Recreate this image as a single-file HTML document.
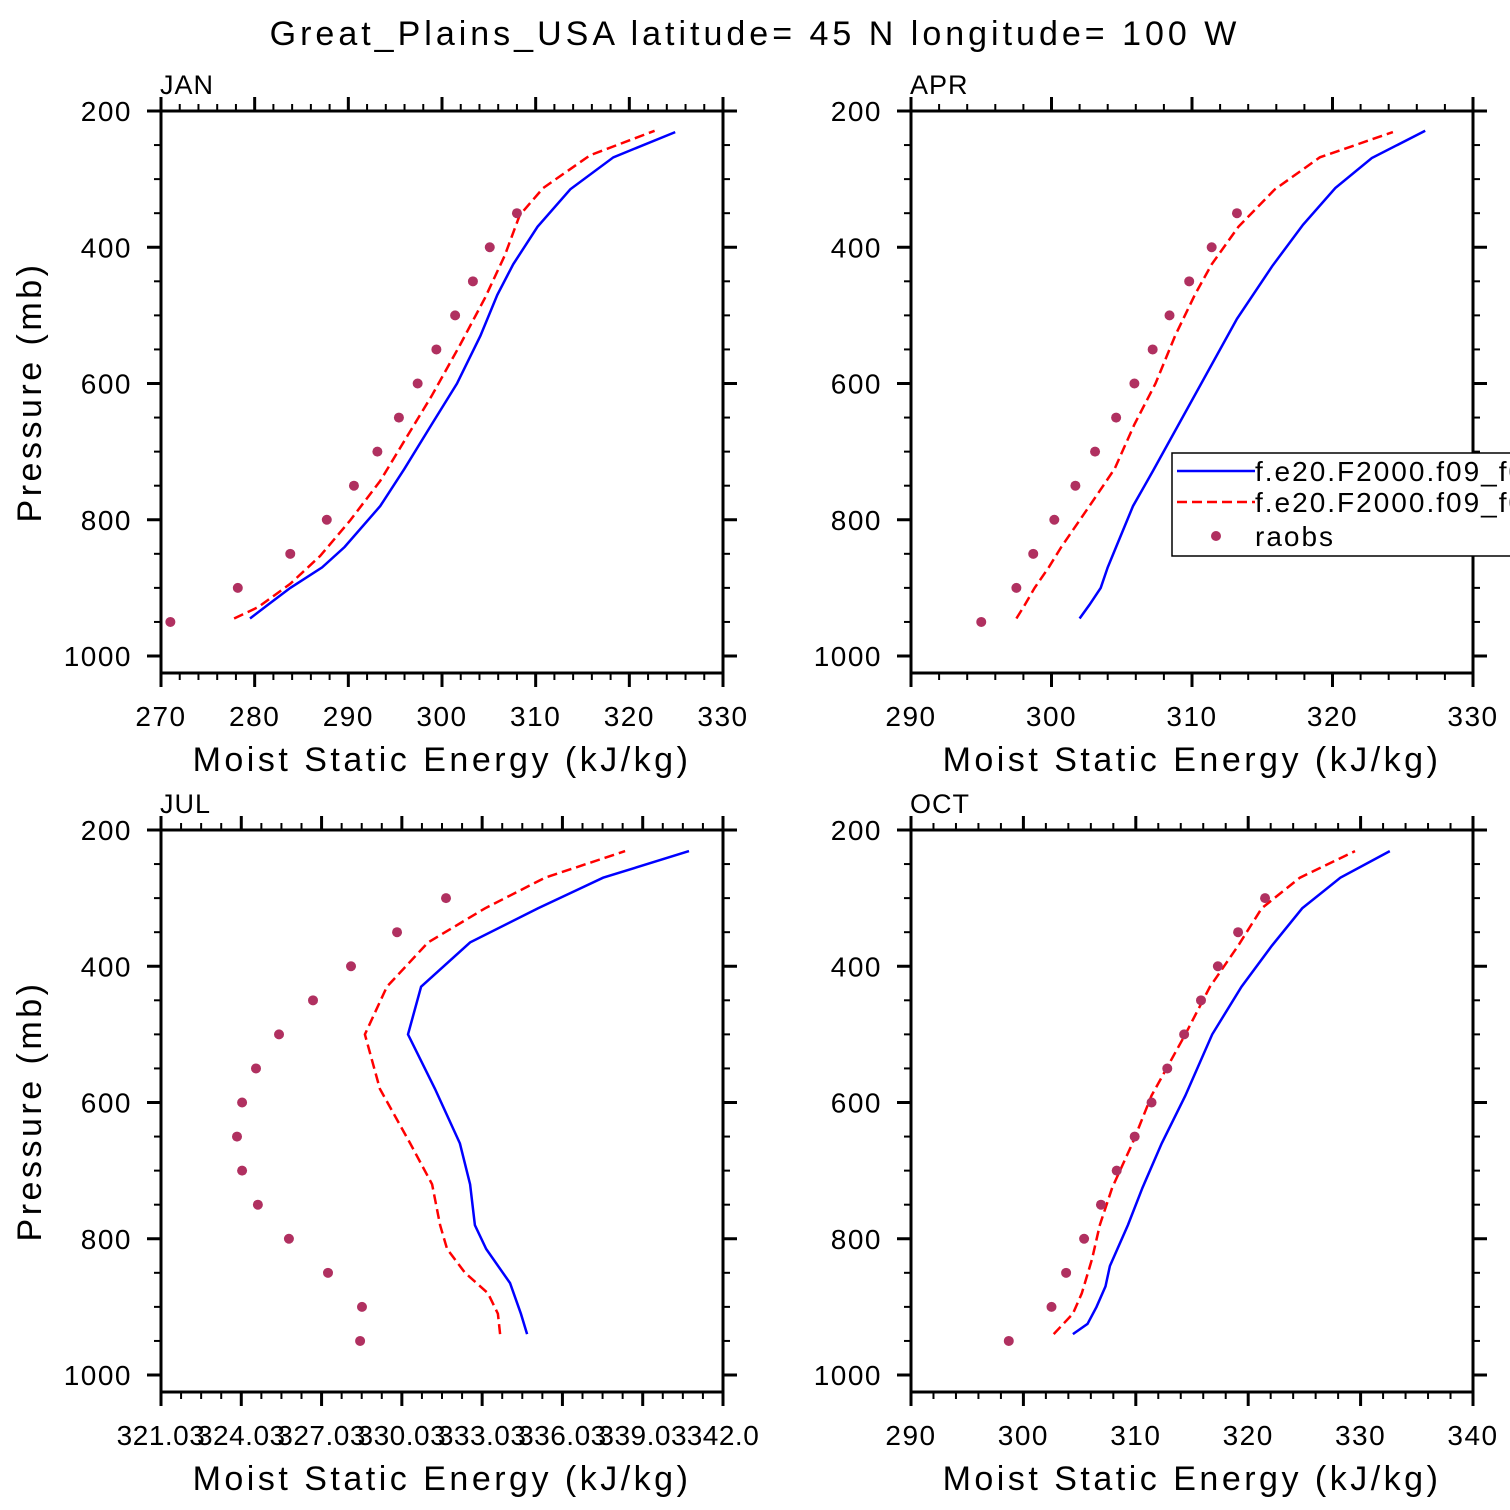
<!DOCTYPE html>
<html><head><meta charset="utf-8"><style>
html,body{margin:0;padding:0;background:#fff}
svg{display:block;font-family:"Liberation Sans",sans-serif}
</style></head><body>
<svg id="chart" width="1510" height="1510" viewBox="0 0 1510 1510">
<text x="755" y="45" text-anchor="middle" font-size="34" letter-spacing="4">Great_Plains_USA  latitude= 45 N longitude= 100 W</text>
</svg>
<script>
const janP=[945,925,900,870,840,780,725,660,600,530,470,425,370,315,268,231];
const janBlue=[279.5,281.4,283.8,287.2,289.6,293.4,296.0,298.9,301.6,304.1,305.9,307.6,310.2,313.7,318.3,324.9];
const janRedP=[945,928,894,853,801,743,684,618,544,474,412,353,313,265,229];
const janRed=[277.8,280.4,283.8,287.0,290.2,293.4,296.0,298.9,301.9,304.6,306.7,308.3,310.8,315.8,322.7];
const obsP=[950,900,850,800,750,700,650,600,550,500,450,400,350,300];
const janObs=[271.0,278.2,283.8,287.7,290.6,293.1,295.4,297.4,299.4,301.4,303.3,305.1,308.0];
const aprBlueP=[945,925,900,870,840,780,729,505,428,367,313,269,229];
const aprBlue=[302.0,302.7,303.5,304.0,304.6,305.8,307.2,313.2,315.7,317.9,320.2,322.8,326.6];
const aprP=[945,925,900,870,840,780,725,660,600,530,470,425,370,315,268,231];
const aprRed=[297.5,298.1,298.8,299.8,300.7,302.7,304.5,305.9,307.4,308.8,310.2,311.4,313.3,315.9,319.1,324.3];
const aprObs=[295.0,297.5,298.7,300.2,301.7,303.1,304.6,305.9,307.2,308.4,309.8,311.4,313.2];
const julBlueP=[940,910,865,815,780,720,660,580,500,430,365,315,270,231];
const julBlue=[334.71,334.48,334.07,333.18,332.76,332.58,332.20,331.27,330.26,330.75,332.58,335.12,337.55,340.76];
const julRedP=[940,910,880,850,815,780,720,660,580,500,430,365,315,270,231];
const julRed=[333.70,333.62,333.25,332.39,331.72,331.46,331.16,330.34,329.21,328.65,329.47,331.01,333.14,335.38,338.37];
const julObs=[328.47,328.54,327.27,325.81,324.65,324.06,323.87,324.06,324.58,325.44,326.71,328.13,329.85,331.68];
const octBlueP=[940,925,900,870,840,780,725,660,590,500,430,370,315,270,231];
const octBlue=[304.4,305.7,306.5,307.3,307.7,309.3,310.6,312.3,314.4,316.8,319.4,322.1,324.8,328.2,332.6];
const octRedP=[940,910,880,830,780,725,660,590,500,430,370,315,270,231];
const octRed=[302.7,304.4,305.2,306.1,306.8,307.9,309.7,311.4,314.4,316.6,319.1,321.2,324.6,329.5];
const octObs=[298.7,302.5,303.8,305.4,306.9,308.3,309.9,311.4,312.8,314.3,315.8,317.3,319.1,321.5];
const yTicks=[200,400,600,800,1000];
const janXTicks=["270","280","290","300","310","320","330"];
const aprXTicks=["290","300","310","320","330"];
const julXTicks=["321.03","324.03","327.03","330.03","333.03","336.03","339.03","342.0"];
const octXTicks=["290","300","310","320","330","340"];

const NS="http://www.w3.org/2000/svg";
const svg=document.getElementById('chart');
function mk(tag,attrs,parent){const e=document.createElementNS(NS,tag);for(const k in attrs)e.setAttribute(k,attrs[k]);(parent||svg).appendChild(e);return e;}

function panel(o){
  const g=mk('g',{});
  
  
  const L=o.x0,R=o.x0+562,T=o.y0,B=o.y0+562;
  const xs=v=>L+(v-o.xmin)/(o.xmax-o.xmin)*562;
  const ys=p=>T+(p-200)*0.68125;
  const clipId='clip-'+o.name;
  const cp=mk('clipPath',{id:clipId},g);mk('rect',{x:L,y:T,width:562,height:562},cp);
  for(let v=o.xmin;v<=o.xmax+1e-6;v+=o.minor){
    const x=xs(v);
    const isMaj=Math.abs(((v-o.xmin)/o.major)-Math.round((v-o.xmin)/o.major))<1e-6;
    const len=isMaj?14:7;
    mk('line',{x1:x,y1:B,x2:x,y2:B+len,stroke:'#000','stroke-width':isMaj?3:2},g);
    mk('line',{x1:x,y1:T,x2:x,y2:T-len,stroke:'#000','stroke-width':isMaj?3:2},g);
  }
  for(let p=200;p<=1000;p+=50){
    const y=ys(p),isMaj=p%200===0,len=isMaj?14:7;
    mk('line',{x1:L,y1:y,x2:L-len,y2:y,stroke:'#000','stroke-width':isMaj?3:2},g);
    mk('line',{x1:R,y1:y,x2:R+len,y2:y,stroke:'#000','stroke-width':isMaj?3:2},g);
  }
  yTicks.forEach(p=>{const t=mk('text',{x:L-29,y:ys(p)+10,'text-anchor':'end','font-size':28,'letter-spacing':1.5},g);t.textContent=p;
    
    });
  o.xLabels.forEach((s,i)=>{const t=mk('text',{x:xs(o.xmin+i*o.major),y:B+53,'text-anchor':'middle','font-size':28,'letter-spacing':o.tight?0.5:1.5},g);t.textContent=s;
    
    });
  const xt=mk('text',{x:L+281,y:B+98,'text-anchor':'middle','font-size':34,'letter-spacing':3.5},g);xt.textContent='Moist Static Energy (kJ/kg)';
  
  
  if(o.ylab){const yt=mk('text',{x:0,y:0,transform:`translate(${L-120},${T+281}) rotate(-90)`,'text-anchor':'middle','font-size':34,'letter-spacing':3.5},g);yt.textContent='Pressure (mb)';
    
    }
  const pt=mk('text',{x:L-1,y:T-17,'font-size':27,'letter-spacing':1},g);pt.textContent=o.label;
  
  
  const dg=mk('g',{'clip-path':`url(#${clipId})`},g);
  const line=(P,V,color,dash,nm)=>{const d=P.map((p,i)=>(i?'L':'M')+xs(V[i]).toFixed(1)+','+ys(p).toFixed(1)).join('');
    const a={d:d,fill:'none',stroke:color,'stroke-width':2.5};if(dash)a['stroke-dasharray']='10,5';const e=mk('path',a,dg);
    
    };
  line(o.bp,o.blue,'#0000ff',false,'model-line-solid');
  line(o.rp,o.red,'#ff0000',true,'model-line-dashed');
  o.obs.forEach((v,i)=>{const c=mk('circle',{cx:xs(v),cy:ys(o.op[i]),r:5,fill:'#b03060'},dg);
    
    });
  mk('rect',{x:L,y:T,width:562,height:562,fill:'none',stroke:'#000','stroke-width':3},g);
}
panel({name:'jan',label:'JAN',x0:161,y0:111,xmin:270,xmax:330,major:10,minor:2,xLabels:janXTicks,ylab:true,bp:janP,blue:janBlue,rp:janRedP,red:janRed,op:obsP,obs:janObs});
panel({name:'apr',label:'APR',x0:911,y0:111,xmin:290,xmax:330,major:10,minor:2,xLabels:aprXTicks,ylab:false,bp:aprBlueP,blue:aprBlue,rp:aprP,red:aprRed,op:obsP,obs:aprObs});
panel({name:'jul',label:'JUL',x0:161,y0:830,xmin:321.03,xmax:342.03,major:3,minor:0.75,xLabels:julXTicks,tight:true,ylab:true,bp:julBlueP,blue:julBlue,rp:julRedP,red:julRed,op:obsP,obs:julObs});
panel({name:'oct',label:'OCT',x0:911,y0:830,xmin:290,xmax:340,major:10,minor:2,xLabels:octXTicks,ylab:false,bp:octBlueP,blue:octBlue,rp:octRedP,red:octRed,op:obsP,obs:octObs});
const lg=mk('g',{});


mk('rect',{x:1172,y:453,width:360,height:103,fill:'#fff',stroke:'#000','stroke-width':1.5},lg);
mk('line',{x1:1177,y1:471,x2:1255,y2:471,stroke:'#0000ff','stroke-width':2.5},lg);
mk('line',{x1:1177,y1:502,x2:1255,y2:502,stroke:'#ff0000','stroke-width':2.5,'stroke-dasharray':'10,5'},lg);
mk('circle',{cx:1216,cy:536,r:5,fill:'#b03060'},lg);
[['f.e20.F2000.f09_f09',481],['f.e20.F2000.f09_f09',512],['raobs',546]].forEach(([s,y])=>{const t=mk('text',{x:1255,y:y,'font-size':28,'letter-spacing':2},lg);t.textContent=s;
  
  });
</script>
</body></html>
